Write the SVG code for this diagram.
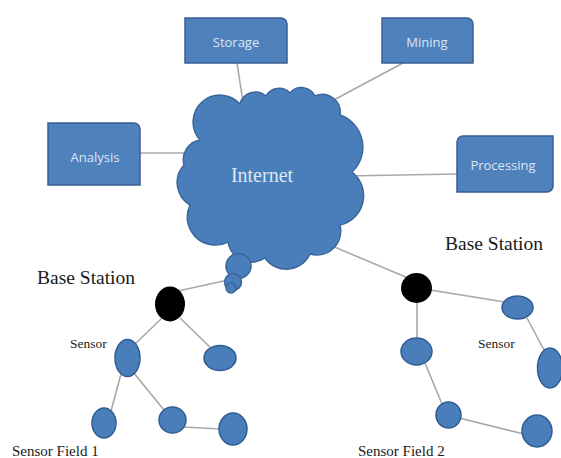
<svg xmlns="http://www.w3.org/2000/svg" width="561" height="458" viewBox="0 0 561 458">
<style>
.box{fill:#4f81bd;stroke:#385f91;stroke-width:1.5}
.btxt{font-family:"Open Sans","Liberation Sans",sans-serif;font-size:13px;fill:#dbe5f2;text-anchor:middle}
.cloud{fill:#4a7ebb;stroke:#3a6698;stroke-width:1.5}
.sen{fill:#4a7ebb;stroke:#2f5d93;stroke-width:1.5}
.bs{fill:#000}
.conn line{stroke:#a8a8a8;stroke-width:1.6}
.serif{font-family:"Liberation Serif","Times New Roman",serif;fill:#1a1a1a}
</style>
<rect width="561" height="458" fill="#fff"/>
<g class="conn" id="connectors">
<line x1="237" y1="63" x2="243" y2="102"/>
<line x1="403" y1="63" x2="330" y2="102"/>
<line x1="140" y1="153" x2="190" y2="153"/>
<line x1="345" y1="176" x2="457" y2="174"/>
<line x1="318" y1="240" x2="408" y2="278"/>
<line x1="178" y1="291" x2="228" y2="280"/>
<line x1="162" y1="318" x2="134" y2="345"/>
<line x1="180" y1="318" x2="212" y2="349"/>
<line x1="121" y1="374" x2="111" y2="411"/>
<line x1="133" y1="372" x2="164" y2="410"/>
<line x1="184" y1="427" x2="221" y2="429"/>
<line x1="430" y1="290" x2="505" y2="302"/>
<line x1="417" y1="300" x2="417" y2="340"/>
<line x1="425" y1="363" x2="442" y2="404"/>
<line x1="459" y1="418" x2="524" y2="434"/>
<line x1="527" y1="318" x2="545" y2="352"/>
</g>
<g id="storage"><path class="box" d="M185,18 H281 A6,6 0 0 1 287,24 V63 H185 Z"/><text class="btxt" x="236" y="47">Storage</text></g>
<g id="mining"><path class="box" d="M382,18 H467 A6,6 0 0 1 473,24 V63 H382 Z"/><text class="btxt" x="427" y="47">Mining</text></g>
<g id="analysis"><path class="box" d="M48,123 H134 A6,6 0 0 1 140,129 V185 H48 Z"/><text class="btxt" x="95" y="162">Analysis</text></g>
<g id="processing"><path class="box" d="M463,136 H553 V186 A6,6 0 0 1 547,192 H457 V142 A6,6 0 0 1 463,136 Z"/><text class="btxt" x="503" y="170">Processing</text></g>
<g id="internet">
<path class="cloud" d="M200,140 A26,26 0 0 1 240,104 A16,16 0 0 1 266,96 A15,15 0 0 1 290,93 A15,15 0 0 1 315,96 A18,18 0 0 1 340,115 A34,34 0 0 1 352,172 A30,30 0 0 1 340,225 A24,24 0 0 1 310,254 A26,26 0 0 1 265,258 A24,24 0 0 1 228,242 A28,28 0 0 1 190,205 A26,26 0 0 1 184,165 A20,20 0 0 1 200,140 Z"/>
<circle class="cloud" cx="238.5" cy="266" r="12.5"/>
<circle class="cloud" cx="233" cy="282" r="8.5"/>
<circle class="cloud" cx="231" cy="288" r="5"/>
<text x="262" y="182" text-anchor="middle" font-family="Liberation Serif, Times New Roman, serif" font-size="20" fill="#dde7f3">Internet</text>
</g>
<g id="bs-left"><ellipse class="bs" cx="170" cy="304" rx="15" ry="17.5"/><text class="serif" x="37" y="284" font-size="19.5">Base Station</text></g>
<g id="bs-right"><ellipse class="bs" cx="416.5" cy="288" rx="15.5" ry="15"/><text class="serif" x="445" y="250" font-size="19.5">Base Station</text></g>
<g id="field1">
<ellipse class="sen" cx="127.5" cy="358" rx="12.5" ry="18.5"/>
<ellipse class="sen" cx="220" cy="358" rx="16" ry="12.5"/>
<ellipse class="sen" cx="104" cy="423" rx="12" ry="15"/>
<ellipse class="sen" cx="172.5" cy="420" rx="13.5" ry="13"/>
<ellipse class="sen" cx="233" cy="429" rx="14" ry="16"/>
<text class="serif" x="70" y="348" font-size="13.5">Sensor</text>
<text class="serif" x="12" y="456" font-size="15">Sensor Field 1</text>
</g>
<g id="field2">
<ellipse class="sen" cx="517.5" cy="307.5" rx="15.5" ry="11.5"/>
<ellipse class="sen" cx="416.5" cy="351.5" rx="15.5" ry="13.5"/>
<ellipse class="sen" cx="550" cy="368" rx="12.5" ry="20"/>
<ellipse class="sen" cx="448.5" cy="415" rx="12.5" ry="13"/>
<ellipse class="sen" cx="537" cy="431" rx="15" ry="16"/>
<text class="serif" x="478" y="348" font-size="13.5">Sensor</text>
<text class="serif" x="358" y="456" font-size="15">Sensor Field 2</text>
</g>
</svg>
